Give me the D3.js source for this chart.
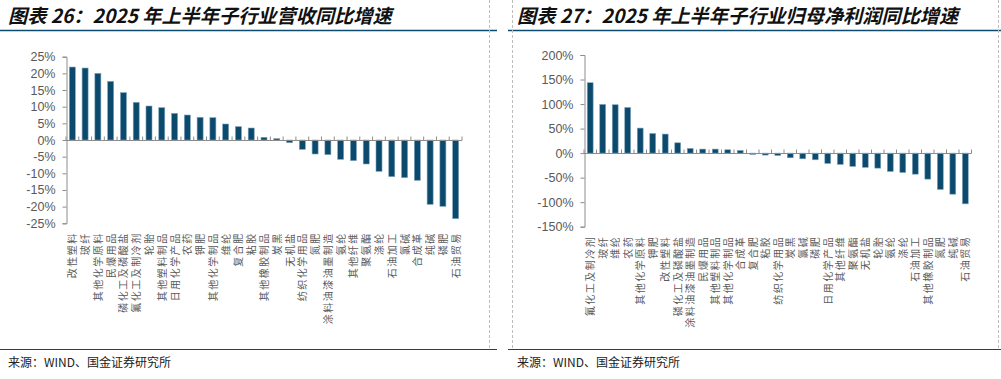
<!DOCTYPE html>
<html><head><meta charset="utf-8">
<script src="https://cdn.jsdelivr.net/npm/d3@7"></script>
<style>
html,body{margin:0;padding:0;background:#fff;}
svg{display:block;}
</style></head>
<body>
<svg id="c" width="1001" height="379"></svg>
<script>
const title1 = "图表 26：2025 年上半年子行业营收同比增速";
const title2 = "图表 27：2025 年上半年子行业归母净利润同比增速";
const source = "来源：WIND、国金证券研究所";

const cats1 = ["改性塑料","玻纤","其他化学原料","民爆用品","磷化工及磷酸盐","氟化工及制冷剂","轮胎","其他塑料制品","日用化学产品","农药","钾肥","其他化学制品","维纶","复合肥","粘胶","其他橡胶制品","炭黑","无机盐","纺织化学用品","氮肥","涂料油漆油墨制造","氨纶","其他纤维","聚氨酯","涤纶","石油加工","氯碱","合成革","纯碱","磷肥","石油贸易"];
const vals1 = [21.9,21.6,20.0,17.6,14.2,11.3,10.2,9.7,8.0,7.5,6.8,6.7,4.8,4.0,3.6,0.8,0.4,-0.8,-2.8,-4.2,-4.4,-5.8,-6.2,-7.2,-9.4,-11.0,-11.3,-12.1,-19.3,-19.9,-23.6];
const ticks1 = [25,20,15,10,5,0,-5,-10,-15,-20,-25];

const cats2 = ["氟化工及制冷剂","玻纤","维纶","农药","其他化学原料","钾肥","改性塑料","磷化工及磷酸盐","涂料油漆油墨制造","民爆用品","其他塑料制品","其他化学制品","合成革","复合肥","粘胶","纺织化学用品","炭黑","氯碱","磷肥","日用化学产品","其他纤维","聚氨酯","无机盐","轮胎","氨纶","涤纶","石油加工","其他橡胶制品","氮肥","纯碱","石油贸易"];
const vals2 = [143.5,99.3,98.6,93,51,40,38.8,21,9.5,8.2,8.2,6.8,5.4,-2.7,-4,-4.8,-9.5,-11.6,-13.6,-21,-23,-27,-29,-30.6,-37.4,-39.5,-42.9,-53,-74,-83.7,-103.4];
const ticks2 = [200,150,100,50,0,-50,-100,-150];

const svg = d3.select("#c");
const TEAL = "#0d4b6e", BAR = "#0b4a6d", AX = "#8c8c8c", TXT = "#595959";

function frame(x0, x1, tx, title){
  svg.append("line").attr("x1",x0).attr("x2",x1).attr("y1",30.5).attr("y2",30.5)
    .attr("stroke",TEAL).attr("stroke-width",1.5);
  svg.append("text").attr("x",tx).attr("y",23).text(title)
    .attr("font-family","'Noto Sans CJK SC','Noto Sans',sans-serif")
    .attr("font-size",19.2).attr("font-weight","bold").attr("font-style","italic")
    .attr("fill","#111");
  svg.append("line").attr("x1",x0).attr("x2",x1).attr("y1",349.5).attr("y2",349.5)
    .attr("stroke",TEAL).attr("stroke-width",1);
  svg.append("text").attr("x",tx).attr("y",367).text(source)
    .attr("font-family","'Noto Sans CJK SC',sans-serif").attr("font-size",12).attr("fill","#222");
}
frame(0, 497, 8, title1);
frame(508, 1001, 517, title2);
[489.5, 512.5, 998.5].forEach(x=>{
  svg.append("line").attr("x1",x).attr("x2",x).attr("y1",0).attr("y2",349)
    .attr("stroke","#bdbdbd").attr("stroke-dasharray","3,2").attr("stroke-width",1);
});

function chart(cats, vals, ticks, xr, yr, dom){
  const x = d3.scaleBand().domain(cats).range(xr).paddingInner(0.53).paddingOuter(0.26);
  const y = d3.scaleLinear().domain(dom).range(yr);
  const g = svg.append("g");
  const ya = g.append("g").attr("transform",`translate(${xr[0]+0.5},0)`)
    .call(d3.axisLeft(y).tickValues(ticks).tickSize(4).tickFormat(d=>d+"%"));
  ya.select(".domain").attr("stroke",AX);
  ya.selectAll(".tick line").attr("stroke",AX);
  ya.selectAll("text").attr("font-family","'Liberation Sans',Arial,sans-serif")
    .attr("font-size",12.5).attr("fill",TXT).attr("x",-11);
  g.selectAll("rect.b").data(vals).enter().append("rect")
    .attr("x",(d,i)=>x(cats[i]))
    .attr("width",x.bandwidth())
    .attr("y",d=>Math.min(y(d),y(0)))
    .attr("height",d=>Math.abs(y(d)-y(0)))
    .attr("fill",BAR).attr("stroke","#7ea3bb").attr("stroke-width",0.6);
  const y0 = Math.round(y(0))+0.5;
  g.append("line").attr("x1",xr[0]).attr("x2",xr[1]).attr("y1",y0).attr("y2",y0)
    .attr("stroke",AX).attr("stroke-width",1);
  const bounds = d3.range(cats.length+1).map(i=>xr[0]+i*(xr[1]-xr[0])/cats.length);
  g.selectAll("line.t").data(bounds).enter().append("line")
    .attr("x1",d=>d).attr("x2",d=>d).attr("y1",y0-4).attr("y2",y0)
    .attr("stroke",AX);
  g.selectAll("text.c").data(cats).enter().append("text")
    .attr("transform",d=>`translate(${x(d)+x.bandwidth()/2+4},${yr[1]+9}) rotate(-90)`)
    .attr("text-anchor","end")
    .attr("font-family","'Noto Sans CJK SC',sans-serif")
    .attr("font-size",10).attr("letter-spacing",1.5).attr("fill",TXT)
    .text(d=>d);
}
chart(cats1, vals1, ticks1, [66, 462], [56.7, 223.3], [25, -25]);
chart(cats2, vals2, ticks2, [584, 971.5], [55, 226.7], [200, -150]);
</script>
</body></html>
